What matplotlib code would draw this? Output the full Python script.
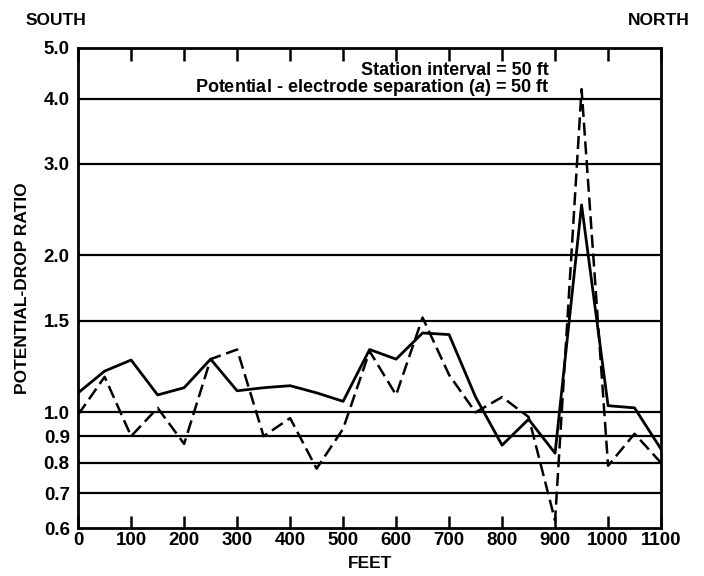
#!/usr/bin/env python3

import matplotlib.pyplot as plt
from matplotlib.ticker import FixedLocator, NullLocator

# station positions (ft) and potential-drop ratios
feet = [0, 50, 100, 150, 200, 250, 300, 350, 400, 450, 500, 550,
        600, 650, 700, 750, 800, 850, 900, 950, 1000, 1050, 1100]
ratio_solid = [1.09, 1.20, 1.26, 1.08, 1.115, 1.265, 1.10, 1.115, 1.125, 1.09, 1.05, 1.32,
               1.265, 1.42, 1.41, 1.07, 0.865, 0.97, 0.835, 2.50, 1.03, 1.02, 0.85]
ratio_dashed = [0.99, 1.17, 0.90, 1.02, 0.87, 1.265, 1.32, 0.90, 0.975, 0.78, 0.93, 1.31,
                1.08, 1.52, 1.18, 1.00, 1.07, 0.98, 0.62, 4.17, 0.79, 0.91, 0.80]

y_ticks = [0.6, 0.7, 0.8, 0.9, 1.0, 1.5, 2.0, 3.0, 4.0, 5.0]
y_labels = ["0.6", "0.7", "0.8", "0.9", "1.0", "1.5", "2.0", "3.0", "4.0", "5.0"]
x_ticks = list(range(0, 1101, 100))

plt.rcParams['font.family'] = ['Liberation Sans', 'DejaVu Sans']
plt.rcParams['font.weight'] = 'bold'
plt.rcParams['mathtext.fontset'] = 'custom'
plt.rcParams['mathtext.it'] = 'Liberation Sans:italic:bold'

fs = 13.5

fig = plt.figure(figsize=(7.04, 5.76), dpi=100)
ax = fig.add_axes([0.111, 0.0833, 0.828, 0.8334])

ax.set_yscale('log')
ax.set_xlim(0, 1100)
ax.set_ylim(0.6, 5.0)

# horizontal rulings
for v in y_ticks[1:-1]:
    ax.axhline(v, color='black', lw=1.6, zorder=1)

ax.plot(feet, ratio_solid, color='black', lw=2.0, zorder=3)
ax.plot(feet, ratio_dashed, color='black', lw=1.8, dashes=(5.2, 2.3), zorder=3)

# props
ax.yaxis.set_major_locator(FixedLocator(y_ticks))
ax.yaxis.set_minor_locator(NullLocator())
ax.set_yticklabels(y_labels, fontsize=fs, fontweight='bold')
ax.tick_params(axis='y', which='both', length=0, pad=6)

ax.set_xticks(x_ticks)
ax.set_xticklabels([str(t) for t in x_ticks], fontsize=fs, fontweight='bold')
ax.tick_params(axis='x', which='major', direction='in', length=9, width=1.8,
               color='black', top=True, bottom=True, pad=3)

for sp in ax.spines.values():
    sp.set_linewidth(2)

ax.set_xlabel("FEET", fontsize=12.5, fontweight='bold', labelpad=5)
ax.set_ylabel("POTENTIAL-DROP RATIO", fontsize=12.5, fontweight='bold', labelpad=10)

ax.text(0.808, 0.953, "Station interval = 50 ft", transform=ax.transAxes,
        ha='right', va='center', fontsize=13, fontweight='bold')
ax.text(0.808, 0.917, "Potential - electrode separation ($a$) = 50 ft", transform=ax.transAxes,
        ha='right', va='center', fontsize=13, fontweight='bold')

fig.text(0.036, 0.965, "SOUTH", ha='left', va='center', fontsize=12.5, fontweight='bold')
fig.text(0.98, 0.965, "NORTH", ha='right', va='center', fontsize=12.5, fontweight='bold')

plt.savefig("out.png", dpi=100)
